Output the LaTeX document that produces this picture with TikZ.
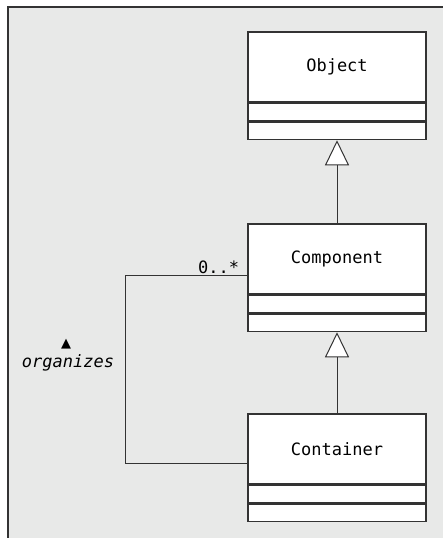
\documentclass[tikz,border=0pt]{standalone}
\usepackage{fontspec}
\setmonofont{DejaVu Sans Mono}
\newfontfamily\symbfont{DejaVu Sans}
\usepackage{xcolor}
\definecolor{frameGray}{HTML}{E8E9E8}
\definecolor{lineGray}{HTML}{333333}
\usepackage{tikz}
\usetikzlibrary{arrows.meta, positioning}

\begin{document}
\begin{tikzpicture}[x=1pt, y=-1pt, font=\ttfamily\fontsize{17}{20}\selectfont,
    classname/.style={draw=lineGray, line width=1.3pt, fill=white, minimum width=178pt, minimum height=70pt, inner sep=0pt},
    compart/.style={draw=lineGray, line width=1.3pt, fill=white, minimum width=178pt, minimum height=17.5pt, inner sep=0pt},
    inherit/.style={draw=lineGray, line width=1pt, -{Triangle[fill=white, length=25pt, width=24pt, line width=1pt]}},
    assoc/.style={draw=lineGray, line width=1pt}]
        % Frame
        \fill[white] (0,0) rectangle (443,538);
        \useasboundingbox (0,0) rectangle (443,538);
        \fill[frameGray] (8,7) rectangle (443,538);
        \draw[lineGray, line width=1.3pt] (8,538) -- (8,7) -- (443,7);

        % Classes
        \node[classname] (object) at (337,67) {Object};
        \node[compart, below=0pt of object] (objattr) {};
        \node[compart, below=0pt of objattr] (objops) {};

        \node[classname] (component) at (337,259) {Component};
        \node[compart, below=0pt of component] (compattr) {};
        \node[compart, below=0pt of compattr] (compops) {};

        \node[classname] (container) at (337,449) {Container};
        \node[compart, below=0pt of container] (contattr) {};
        \node[compart, below=0pt of contattr] (contops) {};

        % Paths
        \draw[inherit] (component) -- (objops);
        \draw[inherit] (container) -- (compops);
        \draw[assoc] ([yshift=-16pt]component.west) coordinate (assocend) -- ++(-122,0) |- ([yshift=-14pt]container.west);
        \node[above left=-1pt and 6pt of assocend, inner sep=2pt] (mult) {0..*};
        \node (organizes) at (68,363) {\itshape organizes};
        \node[font=\symbfont\fontsize{13}{14}\selectfont, inner sep=0pt] (dir) at (66,344) {▲};
    \end{tikzpicture}
\end{document}
